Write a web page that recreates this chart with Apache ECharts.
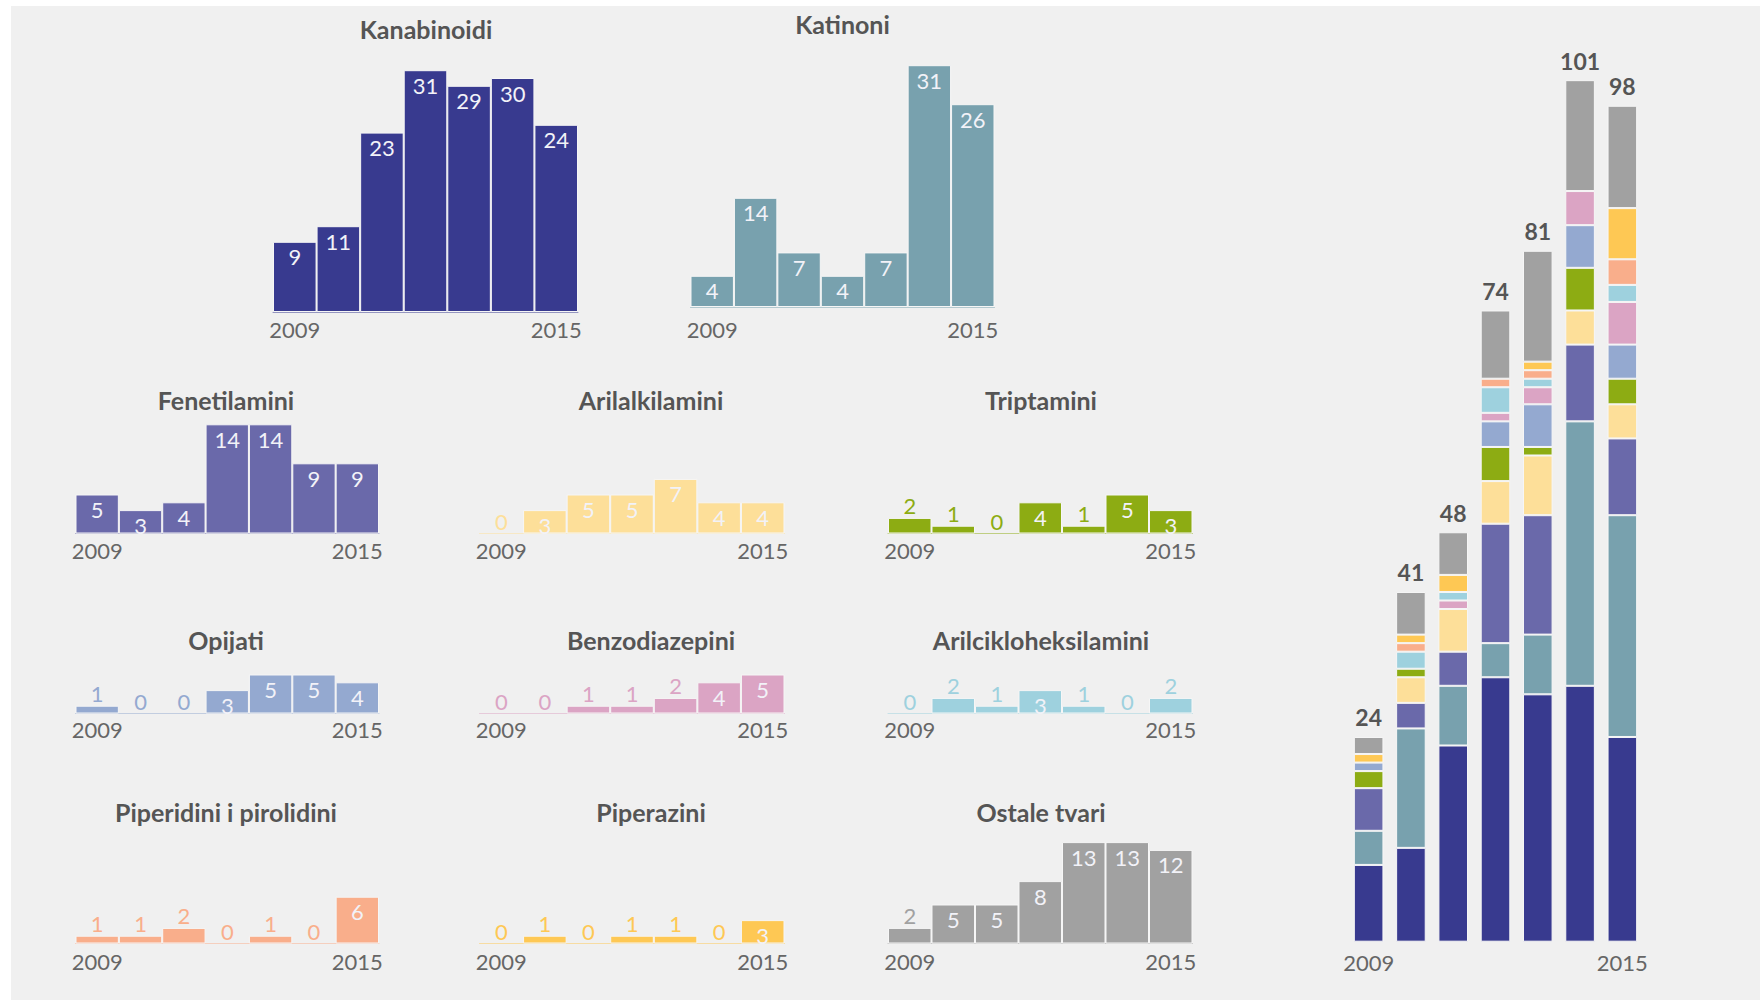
<!DOCTYPE html>
<html>
<head>
<meta charset="utf-8">
<script src="https://cdn.jsdelivr.net/npm/echarts@6/dist/echarts.min.js"></script>
<style>
  html, body { margin: 0; padding: 0; background: #ffffff; }
  #bg { position: absolute; left: 11px; top: 6px; right: 0; bottom: 0; background: #f0f0f0; }
  #chart { position: absolute; left: 0; top: 0; width: 1760px; height: 1000px; }
</style>
</head>
<body>
<div id="bg"></div>
<div id="chart"></div>
<script>
// ---------- DATA ----------
const years = ['2009', '2010', '2011', '2012', '2013', '2014', '2015'];

const kanabinoidi          = [9, 11, 23, 31, 29, 30, 24];
const katinoni             = [4, 14, 7, 4, 7, 31, 26];
const fenetilamini         = [5, 3, 4, 14, 14, 9, 9];
const arilalkilamini       = [0, 3, 5, 5, 7, 4, 4];
const triptamini           = [2, 1, 0, 4, 1, 5, 3];
const opijati              = [1, 0, 0, 3, 5, 5, 4];
const benzodiazepini       = [0, 0, 1, 1, 2, 4, 5];
const arilcikloheksilamini = [0, 2, 1, 3, 1, 0, 2];
const piperidini           = [1, 1, 2, 0, 1, 0, 6];
const piperazini           = [0, 1, 0, 1, 1, 0, 3];
const ostale               = [2, 5, 5, 8, 13, 13, 12];

const names = {
  kanabinoidi: 'Kanabinoidi',
  katinoni: 'Katinoni',
  fenetilamini: 'Fenetilamini',
  arilalkilamini: 'Arilalkilamini',
  triptamini: 'Triptamini',
  opijati: 'Opijati',
  benzodiazepini: 'Benzodiazepini',
  arilcikloheksilamini: 'Arilcikloheksilamini',
  piperidini: 'Piperidini i pirolidini',
  piperazini: 'Piperazini',
  ostale: 'Ostale tvari'
};

// ---------- STYLE / LAYOUT ----------
const colors = {
  kanabinoidi: '#383a8f',
  katinoni: '#78a1ae',
  fenetilamini: '#6a69aa',
  arilalkilamini: '#fddf99',
  triptamini: '#8dac13',
  opijati: '#94a9d0',
  benzodiazepini: '#dba4c4',
  arilcikloheksilamini: '#9ed1de',
  piperidini: '#f9ae8b',
  piperazini: '#fec854',
  ostale: '#a1a1a1'
};
// the stacked overview swaps the two piperidine/piperazine colours
const stackColors = Object.assign({}, colors, { piperidini: '#fec854', piperazini: '#f9ae8b' });

const dataByKey = {
  kanabinoidi, katinoni, fenetilamini, arilalkilamini, triptamini, opijati,
  benzodiazepini, arilcikloheksilamini, piperidini, piperazini, ostale
};

const panels = [
  { key: 'kanabinoidi',          x0: 273,   x1: 578,    base: 312,   tx: 426,   ty: 16,  lm: 6 },
  { key: 'katinoni',             x0: 690.5, x1: 994.5,  base: 307,   tx: 842.5, ty: 11,  lm: 11 },
  { key: 'fenetilamini',         x0: 75.5,  x1: 379,    base: 533.5, tx: 226,   ty: 387, lm: 6 },
  { key: 'arilalkilamini',       x0: 479.5, x1: 784.5,  base: 533.5, tx: 651,   ty: 387, lm: 6 },
  { key: 'triptamini',           x0: 888,   x1: 1192.5, base: 533.5, tx: 1041,  ty: 387, lm: 6 },
  { key: 'opijati',              x0: 75.5,  x1: 379,    base: 713.5, tx: 226,   ty: 627, lm: 5 },
  { key: 'benzodiazepini',       x0: 479.5, x1: 784.5,  base: 713.5, tx: 651,   ty: 627, lm: 5 },
  { key: 'arilcikloheksilamini', x0: 888,   x1: 1192.5, base: 713.5, tx: 1041,  ty: 627, lm: 5 },
  { key: 'piperidini',           x0: 75.5,  x1: 379,    base: 943.5, tx: 226,   ty: 799, lm: 7 },
  { key: 'piperazini',           x0: 479.5, x1: 784.5,  base: 943.5, tx: 651,   ty: 799, lm: 7 },
  { key: 'ostale',               x0: 888,   x1: 1192.5, base: 943.5, tx: 1041,  ty: 799, lm: 7 }
];

const K = 7.8;       // px per unit in small multiples
const YMAX = 32;
const FONT = 'Lato, "Open Sans", sans-serif';

const grid = [], xAxis = [], yAxis = [], series = [], graphic = [];

panels.forEach((p, i) => {
  const col = colors[p.key];
  grid.push({ left: p.x0, width: p.x1 - p.x0, top: p.base - YMAX * K, height: YMAX * K });
  xAxis.push({
    gridIndex: i, type: 'category', data: years, boundaryGap: true,
    axisTick: { show: false },
    axisLine: { show: true, lineStyle: { color: col, opacity: 0.5, width: 1 } },
    axisLabel: {
      interval: (idx) => idx === 0 || idx === years.length - 1,
      margin: p.lm, color: '#666', fontSize: 22, fontFamily: FONT
    },
    splitLine: { show: false }
  });
  yAxis.push({ gridIndex: i, type: 'value', min: 0, max: YMAX, show: false });
  series.push({
    type: 'bar', name: names[p.key], xAxisIndex: i, yAxisIndex: i,
    barCategoryGap: '0%', silent: true, animation: false,
    itemStyle: { color: col, borderColor: '#f6f6f6', borderWidth: 1 },
    label: { show: true, fontSize: 22, fontFamily: FONT },
    data: dataByKey[p.key].map(v => ({
      value: v,
      itemStyle: v === 0 ? { borderWidth: 0 } : {},
      label: v >= 3
        ? { position: 'insideTop', distance: 4, color: '#f2f2f8' }
        : { position: 'top', distance: 1, color: col }
    }))
  });
  graphic.push({
    type: 'text', x: p.tx, y: p.ty, silent: true,
    style: {
      text: names[p.key], align: 'center', textAlign: 'center',
      verticalAlign: 'top', textVerticalAlign: 'top',
      font: 'bold 25px ' + FONT, fill: '#555555'
    }
  });
});

// ---------- stacked overview ----------
const stackOrder = ['kanabinoidi', 'katinoni', 'fenetilamini', 'arilalkilamini', 'triptamini',
  'opijati', 'benzodiazepini', 'arilcikloheksilamini', 'piperazini', 'piperidini', 'ostale'];
const totals = years.map((_, j) => stackOrder.reduce((s, k) => s + dataByKey[k][j], 0));

const SI = panels.length;
const SK = 8.53, SMAX = 110, SBASE = 941.7;
grid.push({ left: 1347.5, width: 296, top: SBASE - SMAX * SK, height: SMAX * SK });
xAxis.push({
  gridIndex: SI, type: 'category', data: years,
  axisTick: { show: false }, axisLine: { show: false },
  axisLabel: {
    interval: (idx) => idx === 0 || idx === years.length - 1,
    margin: 10, color: '#666', fontSize: 22, fontFamily: FONT
  }
});
yAxis.push({ gridIndex: SI, type: 'value', min: 0, max: SMAX, show: false });
stackOrder.forEach((k, n) => {
  series.push({
    type: 'bar', name: names[k] + ' ', xAxisIndex: SI, yAxisIndex: SI, stack: 'all',
    barCategoryGap: '30%', silent: true, animation: false,
    itemStyle: { color: stackColors[k], borderColor: '#f6f6f6', borderWidth: 1 },
    label: n === stackOrder.length - 1 ? {
      show: true, position: 'top', distance: 8,
      formatter: (p) => String(totals[p.dataIndex]),
      color: '#555', fontSize: 23, fontWeight: 'bold', fontFamily: FONT
    } : { show: false },
    data: dataByKey[k].map(v => ({ value: v, itemStyle: v === 0 ? { borderWidth: 0 } : {} }))
  });
});

const chart = echarts.init(document.getElementById('chart'), null, { renderer: 'svg', width: 1760, height: 1000 });
chart.setOption({
  backgroundColor: 'transparent',
  animation: false,
  grid, xAxis, yAxis, series, graphic
});
</script>
</body>
</html>
